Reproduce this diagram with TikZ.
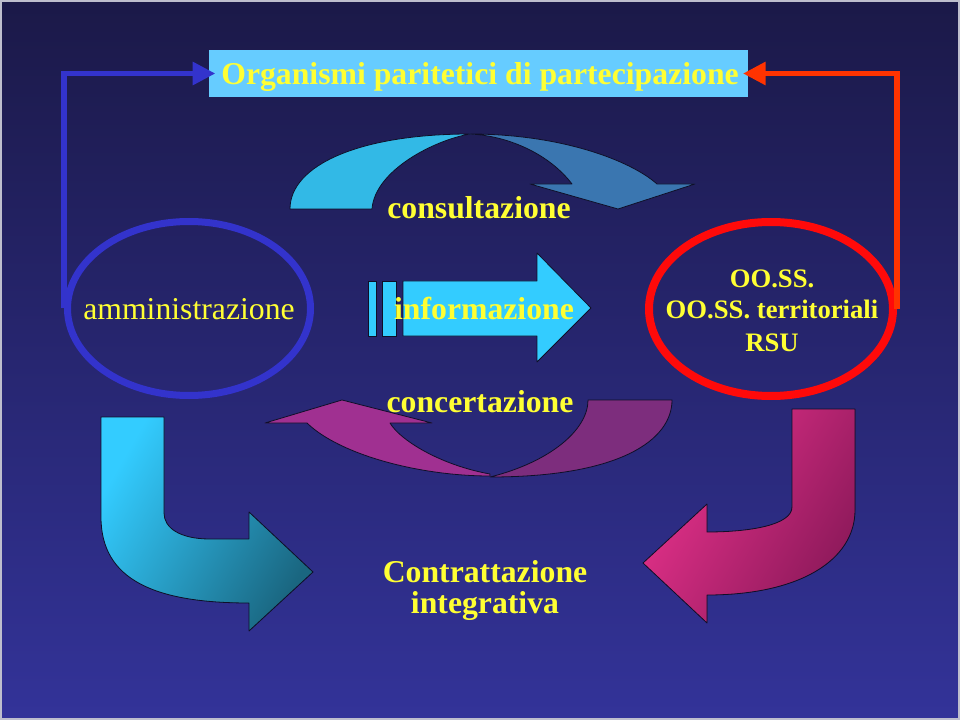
\documentclass[tikz,border=0pt]{standalone}
\usepackage{fontspec}
\setmainfont{Liberation Serif}
\usetikzlibrary{shapes.geometric,arrows.meta}
\definecolor{bgtop}{RGB}{27,25,72}
\definecolor{bgbot}{RGB}{51,51,153}
\definecolor{txtyel}{RGB}{255,255,51}
\definecolor{adblue}{RGB}{51,51,204}
\definecolor{ossred}{RGB}{255,10,10}
\definecolor{conred}{RGB}{255,51,0}
\definecolor{titlebg}{RGB}{102,204,255}
\definecolor{consA}{RGB}{50,185,230}
\definecolor{consB}{RGB}{58,118,176}
\definecolor{infoC}{RGB}{51,204,255}
\definecolor{concA}{RGB}{160,48,145}
\definecolor{concB}{RGB}{125,45,125}
\definecolor{cyL}{RGB}{51,204,255}
\definecolor{cyD}{RGB}{26,102,128}
\definecolor{pkL}{RGB}{232,50,140}
\definecolor{pkD}{RGB}{140,25,90}
\definecolor{outl}{RGB}{15,15,40}
\definecolor{frame}{RGB}{190,190,205}
\begin{document}
\begin{tikzpicture}[x=0.75pt,y=-0.75pt,
  shapeline/.style={draw=outl,line width=0.6pt,line join=round},
  lbl/.style={text=txtyel,font=\bfseries\fontsize{23.8}{28}\selectfont,anchor=base,inner sep=0pt},
  osslbl/.style={text=txtyel,font=\bfseries\fontsize{20}{24}\selectfont,anchor=base,inner sep=0pt},
  connector/.style={line width=4.2pt,-{Triangle[length=17pt,width=16.5pt]}}]
\useasboundingbox (0,0) rectangle (960,720);
\fill[top color=bgtop,bottom color=bgbot] (0,0) rectangle (960,720);
\draw[frame,line width=1.2pt] (1,1) rectangle (959,719);

% title box
\node[fill=titlebg,minimum width=404.25pt,minimum height=35.25pt,inner sep=0pt] (title) at (478.5,73.5) {};

% ellipses
\node[ellipse,draw=adblue,line width=5.25pt,minimum width=182.25pt,minimum height=130.5pt,inner sep=0pt] (adm) at (189,308.5) {};
\node[ellipse,draw=ossred,line width=6pt,minimum width=183pt,minimum height=130.5pt,inner sep=0pt] (oss) at (771,309) {};

% connectors
\draw[connector,adblue,shorten >=-5pt] (adm.west) -- (adm.west |- title.west) -- (title.west);
\draw[connector,conred,shorten >=-4pt] (oss.east) -- (oss.east |- title.east) -- (title.east);

% consultazione curved arrow
\filldraw[shapeline,fill=consB] (470,134) .. controls (560,134) and (630,160) .. (657,184)
  -- (695,184) -- (618,209) -- (530,184) -- (572,184)
  .. controls (550,155) and (510,136) .. (470,134) -- cycle;
\filldraw[shapeline,fill=consA] (290,209) .. controls (290,165) and (360,134) .. (470,134)
  .. controls (435,140) and (375,170) .. (372,209) -- cycle;

% informazione arrow
\filldraw[shapeline,fill=infoC] (368,281) rectangle (376,336);
\filldraw[shapeline,fill=infoC] (382,281) rectangle (396,336);
\filldraw[shapeline,fill=infoC] (403,281) -- (537,281) -- (537,253) -- (591,308)
  -- (537,362) -- (537,336) -- (403,336) -- cycle;

% concertazione curved arrow
\filldraw[shapeline,fill=concB] (588,400) -- (672,400) .. controls (672,440) and (620,477) .. (490,477)
  .. controls (550,462) and (588,430) .. (588,400) -- cycle;
\filldraw[shapeline,fill=concA] (490,476) .. controls (420,476) and (340,455) .. (307,423)
  -- (265,423) -- (342,400) -- (432,423) -- (390,423)
  .. controls (400,440) and (440,465) .. (490,474) -- cycle;

% left bent arrow
\filldraw[shapeline,left color=cyL,right color=cyD,shading angle=60]
  (101,417) -- (164,417) -- (164,513) .. controls (164,528) and (180,539) .. (210,539)
  -- (249,539) -- (249,512) -- (313,572) -- (249,631) -- (249,603)
  .. controls (155,603) and (101,580) .. (101,517) -- cycle;

% right bent arrow
\filldraw[shapeline,left color=pkL,right color=pkD,shading angle=60]
  (792,409) -- (855,409) -- (855,510) .. controls (855,560) and (800,595) .. (707,595)
  -- (707,623) -- (643,563) -- (707,504) -- (707,532)
  .. controls (750,532) and (792,525) .. (792,507) -- cycle;

% texts
\node[lbl] (titletext) at (480,85) {Organismi paritetici di partecipazione};
\node[lbl] (consl) at (479,219) {consultazione};
\node[lbl] (infol) at (484,320) {informazione};
\node[lbl] (concl) at (480,412) {concertazione};
\node[lbl,font=\fontsize{23.8}{28}\selectfont] (adml) at (189,320) {amministrazione};
\node[osslbl] (oss1) at (772,287) {OO.SS.};
\node[osslbl] (oss2) at (772,319) {OO.SS. territoriali};
\node[osslbl] (oss3) at (772,351) {RSU};
\node[lbl] (contr1) at (485,582) {Contrattazione};
\node[lbl] (contr2) at (485,613) {integrativa};
\end{tikzpicture}
\end{document}
